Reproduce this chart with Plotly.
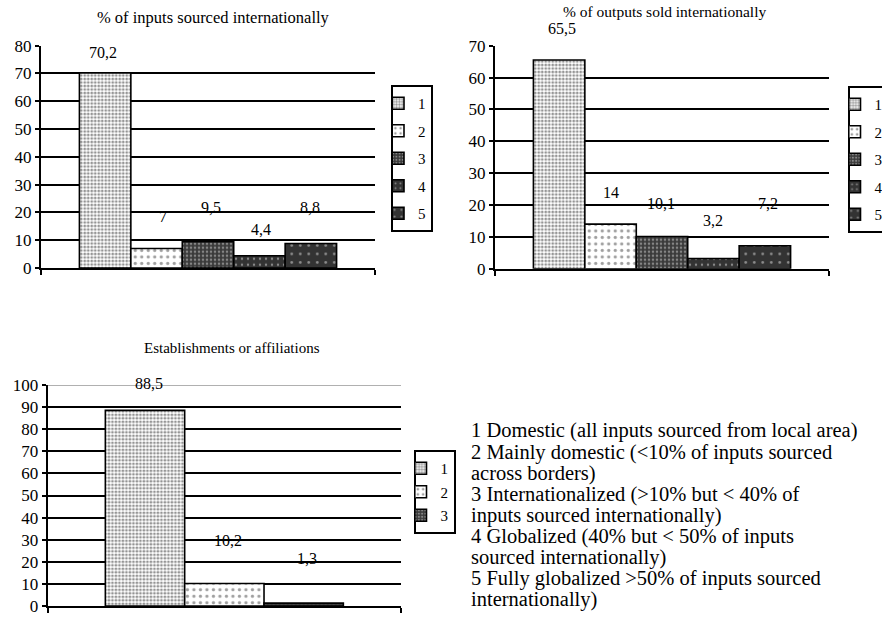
import plotly.graph_objects as go

# ---- data -------------------------------------------------------------
series_names = ["1", "2", "3", "4", "5"]

inputs_title = "% of inputs sourced internationally"
inputs_values = [70.2, 7, 9.5, 4.4, 8.8]
inputs_labels = ["70,2", "7", "9,5", "4,4", "8,8"]
inputs_ticks = [0, 10, 20, 30, 40, 50, 60, 70, 80]

outputs_title = "% of outputs sold internationally"
outputs_values = [65.5, 14, 10.1, 3.2, 7.2]
outputs_labels = ["65,5", "14", "10,1", "3,2", "7,2"]
outputs_ticks = [0, 10, 20, 30, 40, 50, 60, 70]

estab_title = "Establishments or affiliations"
estab_names = ["1", "2", "3"]
estab_values = [88.5, 10.2, 1.3]
estab_labels = ["88,5", "10,2", "1,3"]
estab_ticks = [0, 10, 20, 30, 40, 50, 60, 70, 80, 90, 100]

key_lines = [
    "1 Domestic (all inputs sourced from local area)",
    "2 Mainly domestic (<10% of inputs sourced",
    "across borders)",
    "3 Internationalized (>10% but < 40% of",
    "inputs sourced internationally)",
    "4 Globalized (40% but < 50% of inputs",
    "sourced internationally)",
    "5 Fully globalized >50% of inputs sourced",
    "internationally)",
]

# ---- styling ----------------------------------------------------------
W, H = 882, 635
FONT = "Liberation Serif"
BARGAP = 0.23

# fill patterns for the five categories (dotted hatchings)
patterns = [
    dict(shape=".", fgcolor="#2a2a2a", bgcolor="#ffffff", size=3.5, solidity=0.5),
    dict(shape=".", fgcolor="#404040", bgcolor="#ffffff", size=6.5, solidity=0.2),
    dict(shape=".", fgcolor="#d0d0d0", bgcolor="#3a3a3a", size=4, solidity=0.32),
    dict(shape=".", fgcolor="#e0e0e0", bgcolor="#333333", size=6, solidity=0.12),
    dict(shape=".", fgcolor="#e8e8e8", bgcolor="#333333", size=8.5, solidity=0.08),
]

# label nudges (px) relative to the top-centre of each bar
inputs_shift = [(-2, 20), (6, 32), (3, 34), (2, 26), (-1, 36)]
outputs_shift = [(3, 32), (0, 32), (-1, 33), (0, 38), (3, 42)]
estab_shift = [(4, 27), (4, 43), (3, 45)]


def px_x(p):
    return p / W


def px_y(p):
    return 1 - p / H


panels = [
    dict(key="", names=series_names, values=inputs_values, labels=inputs_labels,
         ticks=inputs_ticks, shift=inputs_shift, title=inputs_title, title_size=16.5,
         xdom=[px_x(41), px_x(375)], ydom=[px_y(268), px_y(45.7)], half=0.5,
         legend="legend", title_xy=(213, 17)),
    dict(key="2", names=series_names, values=outputs_values, labels=outputs_labels,
         ticks=outputs_ticks, shift=outputs_shift, title=outputs_title, title_size=15.5,
         xdom=[px_x(495), px_x(829)], ydom=[px_y(268.7), px_y(45.7)], half=0.5,
         legend="legend2", title_xy=(664, 11)),
    dict(key="3", names=estab_names, values=estab_values, labels=estab_labels,
         ticks=estab_ticks, shift=estab_shift, title=estab_title, title_size=15,
         xdom=[px_x(47.7), px_x(401)], ydom=[px_y(606), px_y(385)], half=0.5715,
         legend="legend3", title_xy=(232, 348)),
]

fig = go.Figure()
annotations = []
layout_axes = {}

for p in panels:
    n = len(p["values"])
    xa = "x" + p["key"]
    ya = "y" + p["key"]
    for i, (name, val) in enumerate(zip(p["names"], p["values"])):
        fig.add_trace(go.Bar(
            x=[0], y=[val], name=name,
            xaxis=xa, yaxis=ya,
            legend=p["legend"], legendgroup=p["legend"] + name,
            marker=dict(pattern=patterns[i], line=dict(color="black", width=1.6)),
            hoverinfo="skip",
        ))
        # bar centre inside the group
        span = 1 - BARGAP
        cx = -span / 2 + (i + 0.5) * span / n
        dx, dy = p["shift"][i]
        annotations.append(dict(
            x=cx, y=val, xref=xa, yref=ya, text=p["labels"][i],
            showarrow=False, xanchor="center", yanchor="middle",
            xshift=dx, yshift=dy,
            font=dict(family=FONT, size=16, color="black"),
        ))
    tx, ty = p["title_xy"]
    annotations.append(dict(
        x=px_x(tx), y=px_y(ty), xref="paper", yref="paper", text=p["title"],
        showarrow=False, xanchor="center", yanchor="middle",
        font=dict(family=FONT, size=p["title_size"], color="black"),
    ))
    xname = "xaxis" + p["key"]
    yname = "yaxis" + p["key"]
    layout_axes[xname] = dict(
        domain=p["xdom"], anchor=ya, range=[-p["half"], p["half"]],
        showgrid=False, zeroline=False, showline=True, linecolor="black", linewidth=2,
        ticks="outside", tickvals=[-p["half"], p["half"]], ticklen=5, tickwidth=2,
        tickcolor="black", showticklabels=False, fixedrange=True,
    )
    layout_axes[yname] = dict(
        domain=p["ydom"], anchor=xa, range=[0, p["ticks"][-1]],
        tickvals=p["ticks"], showgrid=True, gridcolor="black", gridwidth=2,
        zeroline=False, showline=True, linecolor="black", linewidth=2,
        ticks="outside", ticklen=4, tickwidth=2, tickcolor="black",
        tickfont=dict(family=FONT, size=17, color="black"), fixedrange=True,
    )

# key to the category numbers
for k, line in enumerate(key_lines):
    annotations.append(dict(
        x=px_x(469), y=px_y(431 + k * 21.1), xref="paper", yref="paper",
        text=line, showarrow=False, xanchor="left", yanchor="middle",
        font=dict(family=FONT, size=20.5, color="black"),
    ))

legend_common = dict(
    xanchor="left", yanchor="top", bgcolor="white", bordercolor="black",
    borderwidth=2, font=dict(family=FONT, size=15, color="black"),
    traceorder="grouped", itemwidth=30, indentation=-15, itemclick=False,
)

fig.update_layout(
    width=W, height=H,
    margin=dict(l=0, r=0, t=0, b=0, autoexpand=False),
    paper_bgcolor="white", plot_bgcolor="white",
    barmode="group", bargap=BARGAP, bargroupgap=0,
    showlegend=True,
    legend=dict(x=px_x(391), y=px_y(85), tracegroupgap=5, **legend_common),
    legend2=dict(x=px_x(847.5), y=px_y(86), tracegroupgap=5, **legend_common),
    legend3=dict(x=px_x(413.5), y=px_y(450), tracegroupgap=1, **legend_common),
    annotations=annotations,
    shapes=[dict(type="line", xref="x3", yref="y3", x0=-0.5715, x1=0.5715, y0=100, y1=100,
                 line=dict(color="#b0b0b0", width=2))],
    **layout_axes,
)

fig.write_html("out.html")
